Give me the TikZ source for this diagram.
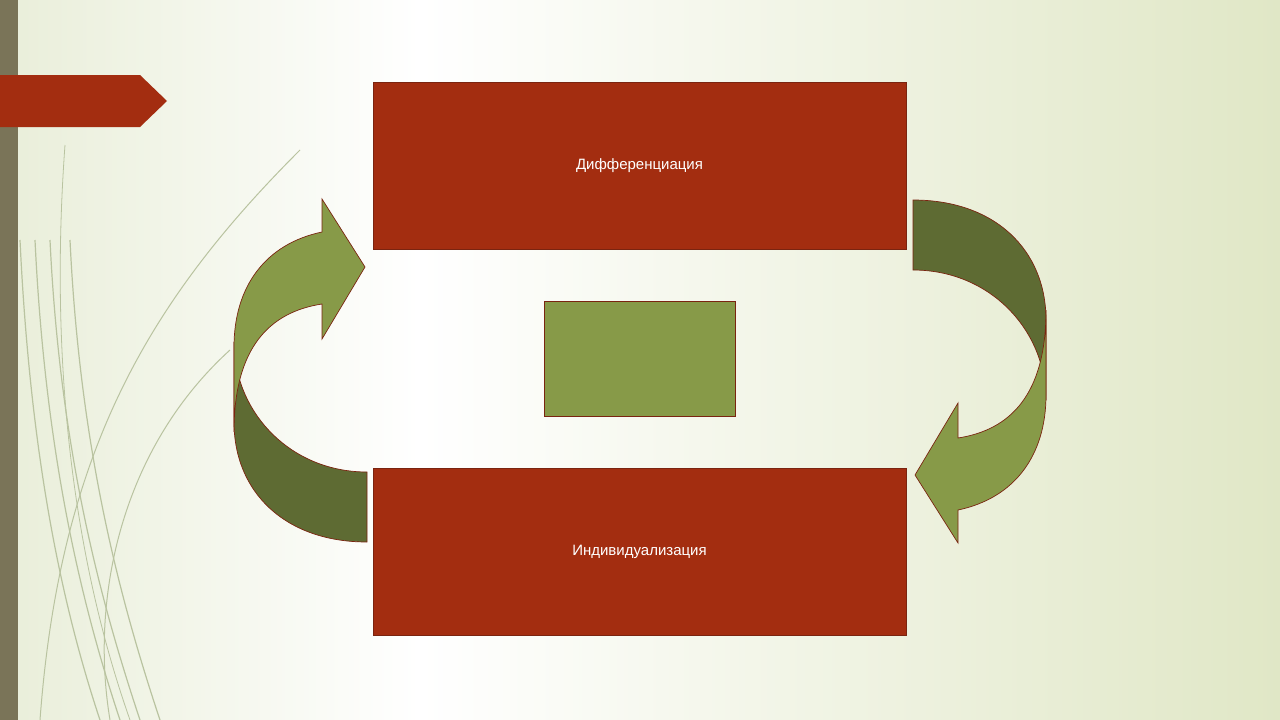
\documentclass[tikz,border=0pt]{standalone}
\usepackage{fontspec}
\setmainfont{Liberation Sans}
\definecolor{bgg}{HTML}{E0E7C6}
\definecolor{bgl}{HTML}{E9EED9}
\definecolor{barc}{HTML}{7A7458}
\definecolor{redc}{HTML}{A32D10}
\definecolor{redb}{HTML}{7A2410}
\definecolor{darkg}{HTML}{5E6B33}
\definecolor{lightg}{HTML}{879A48}
\definecolor{swoosh}{HTML}{B9C3A0}
\begin{document}
\begin{tikzpicture}[x=1pt,y=-1pt,
  box/.style={fill=redc,draw=redb,line width=0.8pt},
  lbl/.style={text=white,font=\fontsize{15}{18}\selectfont},
  arrdark/.style={fill=darkg,draw=redb,line width=0.7pt},
  arrlight/.style={fill=lightg,draw=redb,line width=0.7pt}]
\useasboundingbox (0,0) rectangle (1280,720);
\shade[left color=bgl,right color=white] (0,0) rectangle (420,720);
\shade[left color=white,right color=bgg] (420,0) rectangle (1280,720);
% swooshes
\foreach \a/\b in {20/60,35/80,50/100,70/120}{
  \draw[swoosh,line width=1.2pt] (\a,240) .. controls (\a+10,450) and (\b,600) .. (\b+40,720);}
\draw[swoosh,line width=1pt] (300,150) .. controls (150,300) and (60,450) .. (40,720);
\draw[swoosh,line width=1pt] (230,350) .. controls (120,450) and (90,600) .. (110,720);
\draw[swoosh,line width=0.8pt] (65,145) .. controls (50,350) and (70,550) .. (130,720);
\fill[barc] (0,0) rectangle (18,720);
\fill[redc] (0,75) -- (140,75) -- (167,101) -- (140,127) -- (0,127) -- cycle;
% boxes
\node[box,minimum width=533pt,minimum height=167pt,inner sep=0pt] (top) at (639.5,165.5) {};
\node[lbl] (toplbl) at (top.center) {Дифференциация};
\node[box,minimum width=533pt,minimum height=167pt,inner sep=0pt] (bot) at (639.5,551.5) {};
\node[lbl] (botlbl) at (bot.center) {Индивидуализация};
\node[fill=lightg,draw=redb,line width=0.8pt,minimum width=191pt,minimum height=115pt,inner sep=0pt] (mid) at (639.5,358.5) {};
% right arrow and left (rotated)
\foreach \r in {0,180}{
\begin{scope}[rotate around={\r:(640,371)}]
\draw[arrdark] (913,200) .. controls (995,200) and (1046,250) .. (1046,320) -- (1046,400)
   .. controls (1046,330) and (990,270) .. (913,270) -- cycle;
\draw[arrlight] (1046,310) .. controls (1046,395) and (1010,430) .. (958,438) -- (958,403)
   -- (915,475) -- (958,543) -- (958,510) .. controls (1015,498) and (1046,455) .. (1046,395) -- cycle;
\end{scope}}
\end{tikzpicture}
\end{document}
